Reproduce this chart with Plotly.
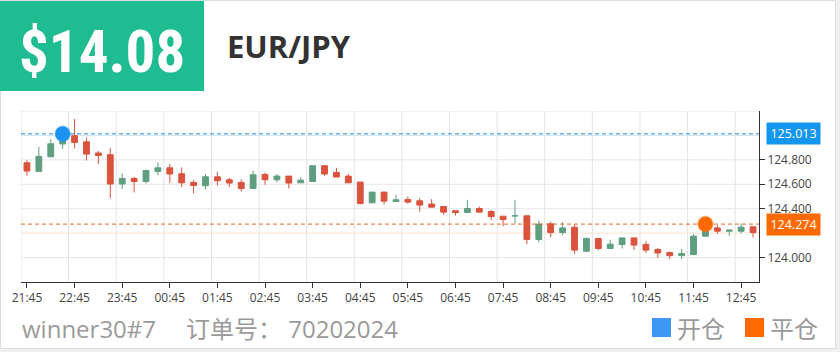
import plotly.graph_objects as go
import pandas as pd

# ---------------- data ----------------
times = list(pd.date_range("2024-01-01 21:45", periods=62, freq="15min").strftime("%H:%M"))
open_ = [124.776, 124.705, 124.825, 124.930, 124.998, 124.948, 124.856, 124.842, 124.602, 124.648,
         124.623, 124.705, 124.735, 124.686, 124.615, 124.588, 124.661, 124.637, 124.615, 124.566,
         124.680, 124.637, 124.667, 124.612, 124.623, 124.752, 124.697, 124.667, 124.618, 124.448,
         124.536, 124.459, 124.475, 124.465, 124.438, 124.418, 124.383, 124.369, 124.402, 124.377,
         124.339, 124.342, 124.342, 124.148, 124.276, 124.205, 124.249, 124.052, 124.156, 124.074,
         124.107, 124.161, 124.107, 124.066, 124.041, 124.016, 124.025, 124.175, 124.243, 124.216,
         124.216, 124.252]
close = [124.708, 124.828, 124.932, 124.970, 124.943, 124.847, 124.836, 124.602, 124.648, 124.623,
         124.713, 124.735, 124.684, 124.612, 124.590, 124.661, 124.629, 124.610, 124.566, 124.678,
         124.637, 124.667, 124.610, 124.634, 124.752, 124.684, 124.659, 124.612, 124.443, 124.536,
         124.462, 124.473, 124.454, 124.430, 124.413, 124.372, 124.369, 124.402, 124.372, 124.336,
         124.311, 124.342, 124.148, 124.274, 124.205, 124.243, 124.061, 124.156, 124.074, 124.110,
         124.161, 124.102, 124.061, 124.038, 124.016, 124.033, 124.175, 124.262, 124.216, 124.225,
         124.249, 124.205]
high = [124.798, 124.907, 124.970, 125.000, 125.134, 124.984, 124.872, 124.899, 124.689, 124.661,
        124.720, 124.779, 124.766, 124.738, 124.634, 124.684, 124.702, 124.653, 124.639, 124.711,
        124.697, 124.684, 124.667, 124.659, 124.752, 124.752, 124.735, 124.686, 124.618, 124.536,
        124.536, 124.514, 124.500, 124.489, 124.479, 124.418, 124.383, 124.473, 124.416, 124.389,
        124.339, 124.473, 124.342, 124.303, 124.295, 124.290, 124.274, 124.165, 124.161, 124.145,
        124.165, 124.165, 124.134, 124.080, 124.049, 124.069, 124.192, 124.290, 124.266, 124.228,
        124.279, 124.252]
low = [124.670, 124.705, 124.825, 124.891, 124.893, 124.795, 124.766, 124.484, 124.561, 124.533,
       124.607, 124.675, 124.612, 124.577, 124.525, 124.561, 124.590, 124.577, 124.539, 124.566,
       124.596, 124.615, 124.566, 124.612, 124.620, 124.670, 124.659, 124.612, 124.434, 124.448,
       124.434, 124.459, 124.440, 124.375, 124.410, 124.352, 124.344, 124.369, 124.370, 124.307,
       124.257, 124.279, 124.110, 124.126, 124.167, 124.184, 124.030, 124.046, 124.061, 124.074,
       124.074, 124.063, 124.038, 123.998, 123.989, 123.989, 124.020, 124.170, 124.194, 124.178,
       124.197, 124.164]

open_time, open_price = "22:30", 125.013
close_time, close_price = "12:00", 124.274

y_range = [123.8, 125.2]
y_grid = [124.0, 124.2, 124.4, 124.6, 124.8, 125.0, 125.2]
y_labels = [124.0, 124.4, 124.6, 124.8]   # 124.2 / 125.0 are hidden behind the price tags

header_value = "$14.08"
symbol = "EUR/JPY"
account = "winner30#7"
order_text = "订单号： 70202024"
legend_open, legend_close = "开仓", "平仓"

# ---------------- geometry helpers ----------------
W, H = 840, 352
L, R, T, B = 21, 759, 111, 282
def px(xp):
    return (xp - L) / (R - L)
def py(yp):
    return (B - yp) / (B - T)

idx = list(range(len(times)))
hour_idx = [i for i, t in enumerate(times) if t.endswith(":45")]

UP = "#5f9f80"
DOWN = "#d9533d"
BLUE_LINE = "#2a86d0"
ORANGE_LINE = "#e0692e"
BLUE = "#1a93f5"
ORANGE = "#ff6a00"
FONT = "Open Sans, Noto Sans CJK SC, sans-serif"

fig = go.Figure()
fig.add_trace(go.Candlestick(
    x=idx, open=open_, high=high, low=low, close=close,
    increasing=dict(line=dict(color=UP, width=1), fillcolor=UP),
    decreasing=dict(line=dict(color=DOWN, width=1), fillcolor=DOWN),
    whiskerwidth=0, showlegend=False, hoverinfo="skip",
))

# open / close markers
fig.add_trace(go.Scatter(
    x=[times.index(open_time), times.index(close_time)],
    y=[open_price, close_price], mode="markers",
    marker=dict(size=15, color=[BLUE, ORANGE],
                line=dict(width=2, color=["rgba(26,147,245,0.25)", "rgba(255,106,0,0.25)"])),
    showlegend=False, hoverinfo="skip",
))

shapes = []
# vertical gridlines at hour boundaries
for i in [-0.5] + [h - 0.5 for h in hour_idx if h > 0]:
    shapes.append(dict(type="line", xref="x", yref="paper", x0=i, x1=i, y0=0, y1=1,
                       line=dict(color="#e3e3e3", width=1), layer="below"))
# horizontal gridlines
tint = {125.0: "#d2e8f8", 124.2: "#fbe2d0"}
for g in y_grid:
    shapes.append(dict(type="line", xref="paper", yref="y", x0=0, x1=1, y0=g, y1=g,
                       line=dict(color=tint.get(g, "#e6e6e6"), width=1), layer="below"))
# dashed price lines
shapes.append(dict(type="line", xref="paper", yref="y", x0=0, x1=1, y0=open_price, y1=open_price,
                   line=dict(color=BLUE_LINE, width=1, dash="4px,3px")))
shapes.append(dict(type="line", xref="paper", yref="y", x0=0, x1=1, y0=close_price, y1=close_price,
                   line=dict(color=ORANGE_LINE, width=1, dash="4px,3px")))
# header green box
shapes.append(dict(type="rect", xref="paper", yref="paper", x0=px(0), x1=px(204), y0=py(91), y1=py(1),
                   fillcolor="#1fbb91", line=dict(width=0)))
# outer frame
shapes.append(dict(type="rect", xref="paper", yref="paper", x0=px(0.5), x1=px(835.5), y0=py(348.5), y1=py(0.5),
                   line=dict(color="#dcdcdc", width=1), layer="below"))
shapes.append(dict(type="rect", xref="paper", yref="paper", x0=px(836), x1=px(840), y0=py(352), y1=py(0),
                   fillcolor="#efefef", line=dict(width=0), layer="below"))
shapes.append(dict(type="rect", xref="paper", yref="paper", x0=px(0), x1=px(840), y0=py(352), y1=py(349),
                   fillcolor="#efefef", line=dict(width=0), layer="below"))
# legend squares
shapes.append(dict(type="rect", xref="paper", yref="paper", x0=px(652), x1=px(671), y0=py(337), y1=py(318),
                   fillcolor="#3d97f5", line=dict(width=0)))
shapes.append(dict(type="rect", xref="paper", yref="paper", x0=px(745), x1=px(764), y0=py(337), y1=py(318),
                   fillcolor="#ff6a00", line=dict(width=0)))

ann = []
ann.append(dict(text="<b>%s</b>" % header_value, xref="paper", yref="paper", x=px(102), y=py(51),
                xanchor="center", yanchor="middle", showarrow=False,
                font=dict(family="Liberation Sans Narrow, Roboto Condensed, Liberation Sans, sans-serif",
                          size=59, color="white")))
ann.append(dict(text="<b>%s</b>" % symbol, xref="paper", yref="paper", x=px(225), y=py(46),
                xanchor="left", yanchor="middle", showarrow=False,
                font=dict(family=FONT, size=31, color="#333333")))
ann.append(dict(text="%.3f" % open_price, xref="paper", yref="y", x=px(766), y=open_price,
                xanchor="left", yanchor="middle", showarrow=False, bgcolor="#1296f0",
                width=53, height=21, borderpad=0,
                font=dict(family=FONT, size=12.5, color="white")))
ann.append(dict(text="%.3f" % close_price, xref="paper", yref="y", x=px(766), y=close_price,
                xanchor="left", yanchor="middle", showarrow=False, bgcolor="#ff6a00",
                width=53, height=21, borderpad=0,
                font=dict(family=FONT, size=12.5, color="white")))
ann.append(dict(text=account, xref="paper", yref="paper", x=px(20), y=py(328),
                xanchor="left", yanchor="middle", showarrow=False,
                font=dict(family=FONT, size=24, color="#9a9a9a")))
ann.append(dict(text=order_text, xref="paper", yref="paper", x=px(184), y=py(328),
                xanchor="left", yanchor="middle", showarrow=False,
                font=dict(family=FONT, size=24, color="#9a9a9a")))
ann.append(dict(text=legend_open, xref="paper", yref="paper", x=px(675), y=py(328),
                xanchor="left", yanchor="middle", showarrow=False,
                font=dict(family=FONT, size=24, color="#9a9a9a")))
ann.append(dict(text=legend_close, xref="paper", yref="paper", x=px(768), y=py(328),
                xanchor="left", yanchor="middle", showarrow=False,
                font=dict(family=FONT, size=24, color="#9a9a9a")))

fig.update_layout(
    width=W, height=H,
    margin=dict(l=L, r=W - R, t=T, b=H - B, pad=0),
    paper_bgcolor="white", plot_bgcolor="white",
    shapes=shapes, annotations=ann,
    xaxis=dict(range=[-0.5, len(times) - 0.5], tickmode="array", tickvals=hour_idx,
               ticktext=[times[i] for i in hour_idx], showgrid=False, zeroline=False,
               showline=True, linecolor="#333333", linewidth=1,
               ticks="outside", ticklen=5, tickcolor="#333333",
               tickfont=dict(family=FONT, size=12, color="#444444"),
               rangeslider=dict(visible=False), fixedrange=True),
    yaxis=dict(side="right", range=y_range, tickmode="array", tickvals=y_labels,
               tickformat=".3f", showgrid=False, zeroline=False,
               showline=True, linecolor="#333333", linewidth=1,
               ticks="outside", ticklen=5, tickcolor="#333333",
               tickfont=dict(family=FONT, size=12, color="#444444"), fixedrange=True),
)

fig.write_html("out.html")
